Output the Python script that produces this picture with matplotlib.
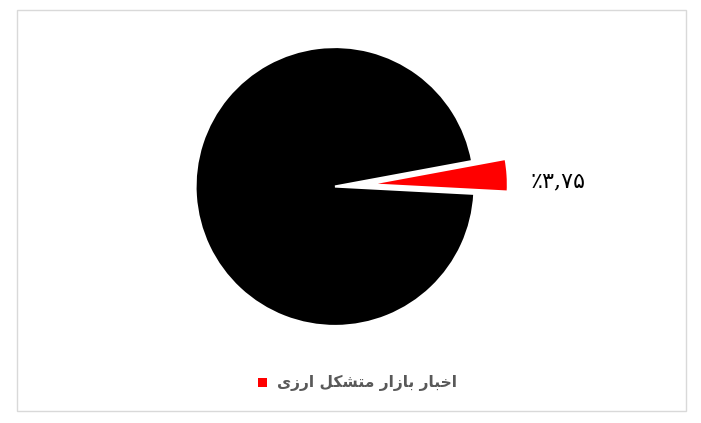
import matplotlib
matplotlib.use("Agg")
import matplotlib.pyplot as plt
from matplotlib.patches import Rectangle
import numpy as np

# data
shares = [3.75, 96.25]
colors = ["#ff0000", "#000000"]
label_text = "\u066a\u06f3,\u06f7\u06f5"   # ٪۳,۷۵ in visual order
legend_name = "اخبار بازار متشکل ارزی"

# pre-shaped presentation forms (matplotlib does no arabic shaping / bidi)
_shaped = {
    "اخبار": "\ufe8d\ufea7\ufe92\ufe8e\ufead",
    "بازار": "\ufe91\ufe8e\ufeaf\ufe8d\ufead",
    "متشکل": "\ufee3\ufe98\ufeb8\ufb91\ufede",
    "ارزی": "\ufe8d\ufead\ufeaf\ufbfc",
}


def _visual(s):
    return " ".join(_shaped[w] for w in s.split())[::-1]


W, H = 701, 423
fig = plt.figure(figsize=(W / 100, H / 100), dpi=100)
ax = fig.add_axes([0, 0, 1, 1])

# chart frame
ax.add_patch(Rectangle((16.5, H - 411), 669, 401, fill=False, ec="#d9d9d9", lw=1))

cx, cy, r = 335, H - 186.5, 139.5
explode = [0.24 * r, 0]   # matplotlib explode is in data units
wedges, _ = ax.pie(shares, colors=colors, startangle=-3, counterclock=True,
                   explode=explode, center=(cx, cy), radius=r,
                   wedgeprops=dict(linewidth=1.6, edgecolor="white"), frame=True)
ax.set_xlim(0, W); ax.set_ylim(0, H)
ax.set_aspect("equal"); ax.axis("off")

w = wedges[0]
mid = np.deg2rad((w.theta1 + w.theta2) / 2)
ox, oy = w.center
ax.text(ox + 1.36 * r * np.cos(mid), cy + 5, label_text, ha="center", va="center",
        fontsize=16, color="black", family=["DejaVu Serif", "DejaVu Sans"])

# legend
ax.add_patch(Rectangle((258, H - 387), 9, 9, color=colors[0], lw=0))
ax.text(277, H - 383, _visual(legend_name), ha="left", va="center",
        fontsize=11.2, fontweight="bold", color="#595959", family=["DejaVu Sans"])

fig.savefig("out.png", dpi=100)
